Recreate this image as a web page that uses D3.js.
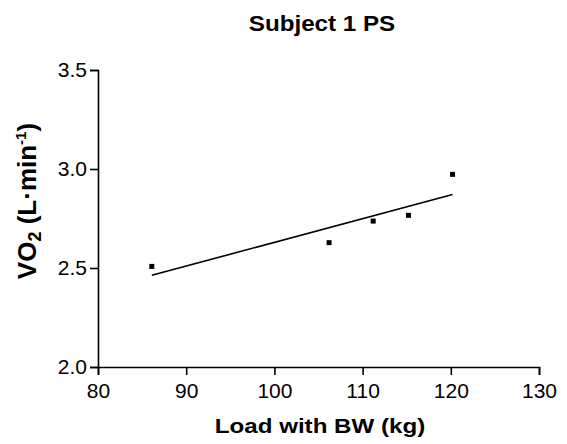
<!DOCTYPE html>
<html>
<head>
<meta charset="utf-8">
<script src="https://cdn.jsdelivr.net/npm/d3@7"></script>
<style>
    body { margin: 0; background: #fff; }
    svg { font-family: "Liberation Sans", Arial, Helvetica, sans-serif; }
    .axis path, .axis line { stroke: #000; stroke-width: 1.6; }
    .axis text { font-size: 21px; fill: #000; }
</style>
</head>
<body>
<div id="chart"></div>
<script>
// load (kg) and VO2 (L/min)
const loads = [86.1, 106.2, 111.2, 115.2, 120.2];
const vo2 = [2.508, 2.628, 2.737, 2.766, 2.973];
const xTicks = [80, 90, 100, 110, 120, 130];
const yTicks = [2.0, 2.5, 3.0, 3.5];

const width = 567, height = 444;
const margin = {top: 70, right: 28, bottom: 77, left: 98};

const svg = d3.select("#chart").append("svg")
    .attr("width", width)
    .attr("height", height);

const x = d3.scaleLinear()
    .domain([80, 130])
    .range([margin.left, width - margin.right]);

const y = d3.scaleLinear()
    .domain([2.0, 3.5])
    .range([height - margin.bottom, margin.top]);

// axes
svg.append("g")
    .attr("class", "axis")
    .attr("transform", "translate(0," + (height - margin.bottom) + ")")
    .call(d3.axisBottom(x).tickValues(xTicks).tickSizeOuter(0).tickSize(8).tickPadding(8).tickFormat(d3.format("d")));

svg.append("g")
    .attr("class", "axis")
    .attr("transform", "translate(" + margin.left + ",0)")
    .call(d3.axisLeft(y).tickValues(yTicks).tickSizeOuter(0).tickSize(8).tickPadding(3).tickFormat(d3.format(".1f")));

// least squares fit through the points
let pts = loads.map((d, i) => ({x: d, y: vo2[i]}));
let mx = d3.mean(pts, d => d.x), my = d3.mean(pts, d => d.y);
let slope = d3.sum(pts, d => (d.x - mx) * (d.y - my)) / d3.sum(pts, d => (d.x - mx) ** 2);
let fit = d3.extent(loads).map(v => ({x: v, y: my + slope * (v - mx)}));

svg.append("path")
    .datum(fit)
    .attr("fill", "none")
    .attr("stroke", "#000")
    .attr("stroke-width", 1.6)
    .attr("d", d3.line().x(d => x(d.x)).y(d => y(d.y)));

// markers
let size = 5;
svg.append("g")
    .selectAll("rect")
    .data(pts)
    .enter()
    .append("rect")
    .attr("x", d => x(d.x) - size / 2)
    .attr("y", d => y(d.y) - size / 2)
    .attr("width", size)
    .attr("height", size)
    .attr("fill", "#000");

// title (original lettering is a bit wider than Liberation)
svg.append("text")
    .attr("transform", "translate(322,31) scale(1.1,1)")
    .attr("text-anchor", "middle")
    .attr("font-size", 22)
    .attr("font-weight", "bold")
    .text("Subject 1 PS");

// x label
svg.append("text")
    .attr("transform", "translate(320,433) scale(1.15,1)")
    .attr("text-anchor", "middle")
    .attr("font-size", 21)
    .attr("font-weight", "bold")
    .text("Load with BW (kg)");

// y label
let yl = svg.append("text")
    .attr("transform", "translate(36,201) rotate(-90)")
    .attr("text-anchor", "middle")
    .attr("font-size", 26)
    .attr("font-weight", "bold");
yl.append("tspan").text("VO");
yl.append("tspan").attr("font-size", 18).attr("dy", 5).text("2");
yl.append("tspan").attr("dy", -5).text(" (L·min");
yl.append("tspan").attr("font-size", 15).attr("dy", -10).text("-1");
yl.append("tspan").attr("dy", 10).text(")");
</script>
</body>
</html>
